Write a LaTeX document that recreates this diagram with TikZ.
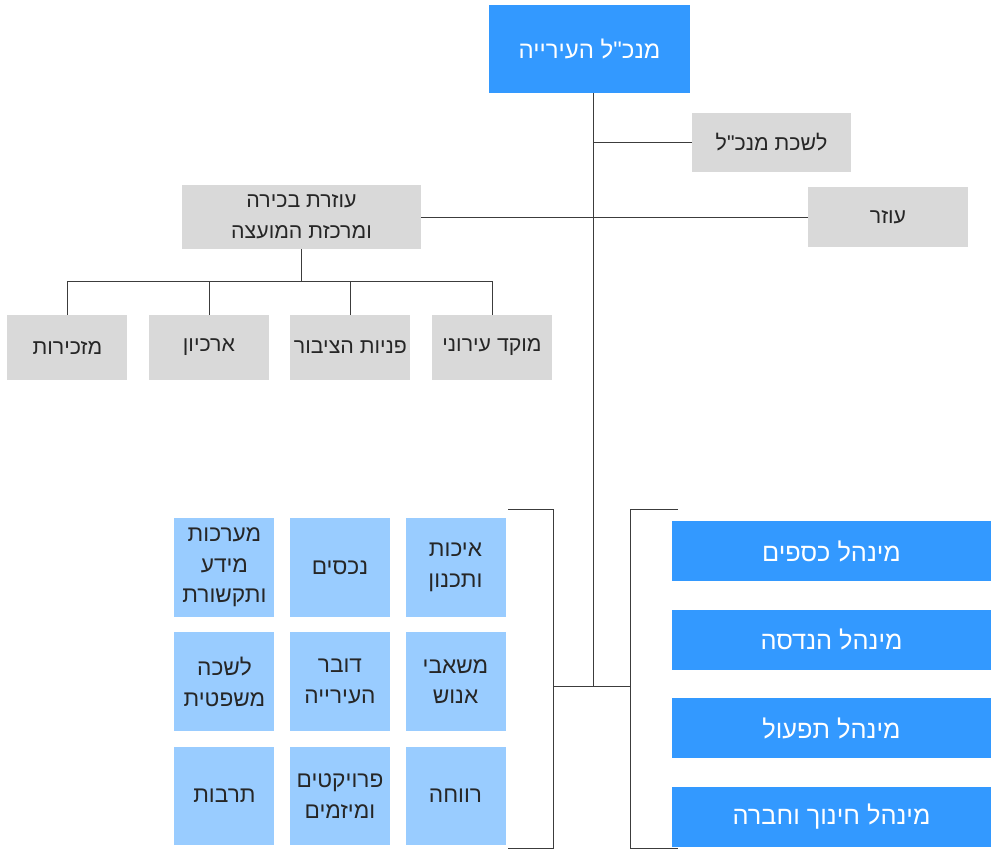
\documentclass[tikz,border=0pt]{standalone}
\usepackage{fontspec}
\setmainfont{Liberation Sans}
\newfontfamily\hebfont[Script=Hebrew]{Liberation Sans}
\TeXXeTstate=1
\usetikzlibrary{
    positioning
}
\definecolor{topblue}{HTML}{3399FF}
\definecolor{paleblue}{HTML}{99CCFF}
\definecolor{boxgrey}{HTML}{D9D9D9}
\definecolor{linegrey}{HTML}{3C3C3C}
\newcommand{\heb}[1]{\beginR #1\endR}

\begin{document}
\begin{tikzpicture}[
x=0.75pt, y=-0.75pt,
font=\hebfont\fontsize{16}{23}\selectfont,
head/.style={
fill=topblue,
text=white,
font=\hebfont\fontsize{18}{23}\selectfont,
minimum width=150.75pt,
minimum height=66pt,
align=center
},
greybox/.style={
fill=boxgrey,
text=black!85,
inner sep=0pt,
align=center
},
unit/.style={
fill=paleblue,
text=black!85,
font=\hebfont\fontsize{17}{23}\selectfont,
minimum width=75pt,
minimum height=74pt,
inner sep=0pt,
align=center
},
wing/.style={
fill=topblue,
text=white,
font=\hebfont\fontsize{19}{23}\selectfont,
minimum width=239.25pt,
minimum height=45pt
},
link/.style={
draw=linegrey,
line width=0.6pt
}
]
\useasboundingbox (0,0) rectangle (991,850);

\node[head] (gm) at (589.5,49) {\heb{מנכ"ל העירייה}};

\node[greybox, minimum width=119.25pt, minimum height=44.25pt]
(office) at (771.5,142.5) {\heb{לשכת מנכ"ל}};

\node[greybox, minimum width=120pt, minimum height=45pt]
(aide) at (888,217) {\heb{עוזר}};

\node[greybox, minimum width=179.25pt, minimum height=48pt]
(senior) at (301.5,217) {\heb{עוזרת בכירה}\\\heb{ומרכזת המועצה}};

% staff under the senior aide
\node[greybox, minimum width=90pt, minimum height=48.75pt]
(hotline) at (492,347.5) {\heb{מוקד עירוני}};
\node[greybox, minimum width=90pt, minimum height=48.75pt,
left=15.75pt of hotline] (public) {\heb{פניות הציבור}};
\node[greybox, minimum width=90pt, minimum height=48.75pt,
left=15.75pt of public] (archive) {\heb{ארכיון}};
\node[greybox, minimum width=90pt, minimum height=48.75pt,
left=15.75pt of archive] (secretary) {\heb{מזכירות}};

% units grid
\node[unit] (quality) at (455.5,567.5) {\heb{איכות}\\\heb{ותכנון}};
\node[unit, left=11.25pt of quality] (assets) {\heb{נכסים}};
\node[unit, left=11.25pt of assets] (infosys)
{\heb{מערכות}\\\heb{מידע}\\\heb{ותקשורת}};

\node[unit, below=11.25pt of quality] (hr) {\heb{משאבי}\\\heb{אנוש}};
\node[unit, left=11.25pt of hr] (spokes) {\heb{דובר}\\\heb{העירייה}};
\node[unit, left=11.25pt of spokes] (legal) {\heb{לשכה}\\\heb{משפטית}};

\node[unit, below=11.25pt of hr] (welfare) {\heb{רווחה}};
\node[unit, left=11.25pt of welfare] (projects)
{\heb{פרויקטים}\\\heb{ומיזמים}};
\node[unit, left=11.25pt of projects] (culture) {\heb{תרבות}};

% divisions
\node[wing] (finance) at (831.5,551) {\heb{מינהל כספים}};
\node[wing, below=21pt of finance] (engineering) {\heb{מינהל הנדסה}};
\node[wing, below=21pt of engineering] (operations) {\heb{מינהל תפעול}};
\node[wing, below=21pt of operations] (education) {\heb{מינהל חינוך וחברה}};

% connectors
\coordinate (hub) at (593,686);
\coordinate (fork) at (301.5,281);
\coordinate (ltop) at (508,509);
\coordinate (lbot) at (508,848);
\coordinate (lbar) at (553,509);
\coordinate (rbar) at (630,509);
\coordinate (rtop) at (678,509);
\coordinate (rbot) at (678,848);

\draw[link] (gm.south -| hub) -- (hub);
\draw[link] (office.west -| hub) -- (office.west);
\draw[link] (senior.east) -- (aide.west);

\draw[link] (senior.south) -- (fork);
\draw[link] (secretary.north |- fork) -- (hotline.north |- fork);
\foreach \n in {secretary, archive, public, hotline}
  \draw[link] (\n.north |- fork) -- (\n.north);

\draw[link] (ltop) -- (lbar) -- (lbar |- lbot) -- (lbot);
\draw[link] (rtop) -- (rbar) -- (rbar |- rbot) -- (rbot);
\draw[link] (lbar |- hub) -- (rbar |- hub);

\end{tikzpicture}
\end{document}
